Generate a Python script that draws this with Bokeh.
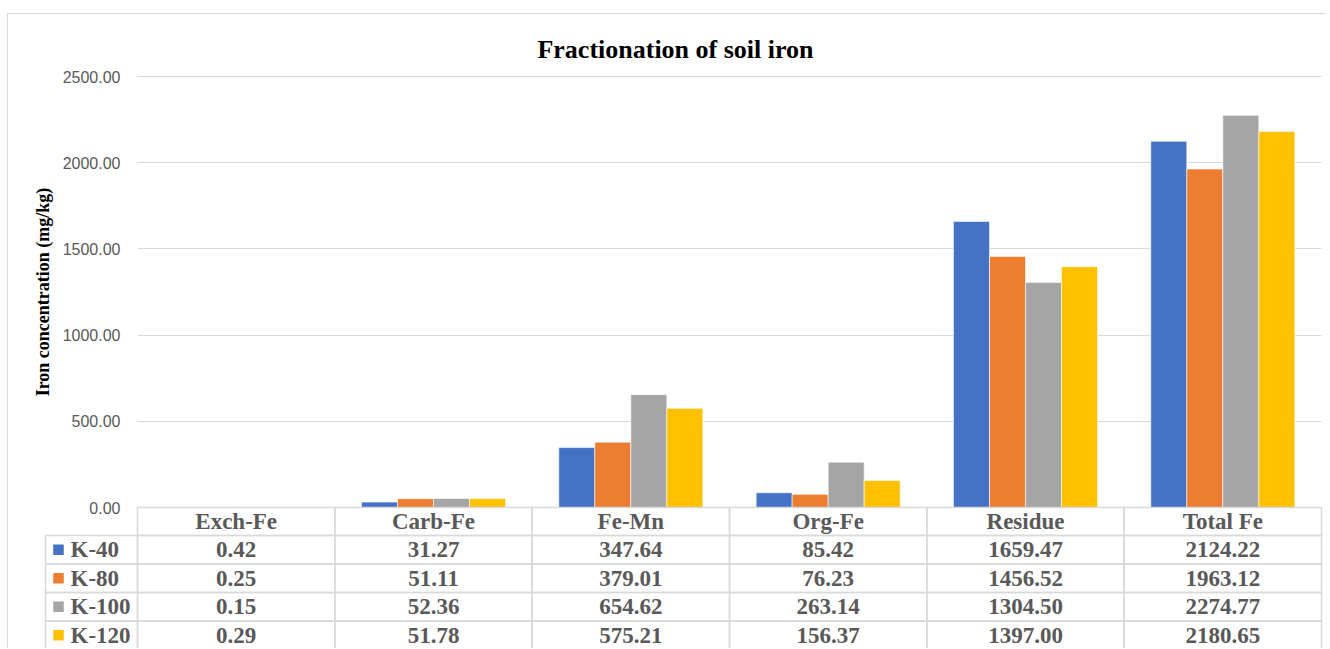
from bokeh.plotting import figure
from bokeh.models import Range1d, FixedTicker, NumeralTickFormatter
from bokeh.core.properties import value
from bokeh.embed import file_html
from bokeh.resources import INLINE

categories = ["Exch-Fe", "Carb-Fe", "Fe-Mn", "Org-Fe", "Residue", "Total Fe"]
series = ["K-40", "K-80", "K-100", "K-120"]
k40 = [0.42, 31.27, 347.64, 85.42, 1659.47, 2124.22]
k80 = [0.25, 51.11, 379.01, 76.23, 1456.52, 1963.12]
k100 = [0.15, 52.36, 654.62, 263.14, 1304.50, 2274.77]
k120 = [0.29, 51.78, 575.21, 156.37, 1397.00, 2180.65]
y_ticks = [0, 500, 1000, 1500, 2000, 2500]
colors = ["#4472C4", "#ED7D31", "#A5A5A5", "#FFC000"]
values = [k40, k80, k100, k120]

GRID = "#d9d9d9"
TXT = "#595959"
SERIF = value("Liberation Serif")

# pixel geometry of the chart (page pixels)
W, H = 1325, 648
X0, Y0 = 137, 507          # where category 0 / value 0 sit
PXC = (1321 - 137) / 6     # pixels per category
PYV = 431 / 2500           # pixels per value unit


def dx(px):
    return (px - X0) / PXC


def dy(py):
    return (Y0 - py) / PYV


p = figure(width=W, height=H, output_backend="svg", toolbar_location=None,
           x_range=Range1d(dx(0), dx(W)), y_range=Range1d(dy(H), dy(0)),
           min_border=0)
p.outline_line_color = None
p.xaxis.visible = False
p.xgrid.visible = False

ya = p.yaxis[0]
ya.fixed_location = 0
ya.bounds = (0, 2500)
ya.ticker = FixedTicker(ticks=y_ticks)
ya.formatter = NumeralTickFormatter(format="0.00")
ya.axis_line_color = None
ya.major_tick_line_color = None
ya.minor_tick_line_color = None
ya.major_tick_out = 0
ya.minor_tick_out = 0
ya.major_label_text_font = "Liberation Sans"
ya.major_label_text_font_size = "16px"
ya.major_label_text_color = TXT
ya.major_label_standoff = 17
ya.axis_label = "Iron concentration (mg/kg)"
ya.axis_label_text_font = "Liberation Serif"
ya.axis_label_text_font_style = "bold"
ya.axis_label_text_font_size = "18px"
ya.axis_label_text_color = "black"
ya.axis_label_standoff = 7

yg = p.ygrid[0]
yg.ticker = FixedTicker(ticks=y_ticks)
yg.grid_line_color = GRID
yg.grid_line_width = 1
if "cross_bounds" in yg.properties():
    yg.cross_bounds = (0, 6)
else:
    yg.visible = False
    p.segment(x0=[0] * len(y_ticks), x1=[6] * len(y_ticks), y0=y_ticks, y1=y_ticks,
              line_color=GRID, line_width=1)

# outer chart border
p.quad(left=[dx(7)], right=[dx(W + 20)], top=[dy(13)], bottom=[dy(H + 20)],
       fill_color=None, line_color=GRID, line_width=1)

# title
p.text(x=[dx(675)], y=[dy(49)], text=["Fractionation of soil iron"], text_font=SERIF,
       text_font_style="bold", text_font_size="26px", text_color="black",
       text_align="center", text_baseline="alphabetic")

# bars
bw = 0.1825
centers = [i + 0.5 for i in range(len(categories))]
for j, vals in enumerate(values):
    off = (j - 1.5) * bw
    p.vbar(x=[c + off for c in centers], top=vals, bottom=0, width=bw,
           fill_color=colors[j], line_color="white", line_width=0.6)

# data table
row_edges = [507, 535, 563.5, 592, 620.5, 649]
ncol = len(categories)
p.quad(left=list(range(ncol)), right=list(range(1, ncol + 1)),
       top=[dy(row_edges[0])] * ncol, bottom=[dy(row_edges[1])] * ncol,
       fill_color=None, line_color=GRID, line_width=1.5)
p.text(x=centers, y=[dy((row_edges[0] + row_edges[1]) / 2)] * ncol, text=categories,
       text_font=SERIF, text_font_style="bold", text_font_size="23px", text_color=TXT,
       text_align="center", text_baseline="middle")

legend_left = dx(45)
for r in range(len(series)):
    top, bot = dy(row_edges[r + 1]), dy(row_edges[r + 2])
    mid = (top + bot) / 2
    p.quad(left=[legend_left] + list(range(ncol)), right=[0] + list(range(1, ncol + 1)),
           top=[top] * (ncol + 1), bottom=[bot] * (ncol + 1),
           fill_color=None, line_color=GRID, line_width=1.5)
    p.scatter(x=[dx(58)], y=[mid], marker="square", size=10.5,
              fill_color=colors[r], line_color=None)
    p.text(x=[dx(70)], y=[mid], text=[series[r]], text_font=SERIF,
           text_font_style="bold", text_font_size="23px", text_color=TXT,
           text_align="left", text_baseline="middle")
    p.text(x=centers, y=[mid] * ncol, text=["%.2f" % v for v in values[r]],
           text_font=SERIF, text_font_style="bold", text_font_size="23px",
           text_color=TXT, text_align="center", text_baseline="middle")

open("out.html", "w").write(file_html(p, INLINE))
